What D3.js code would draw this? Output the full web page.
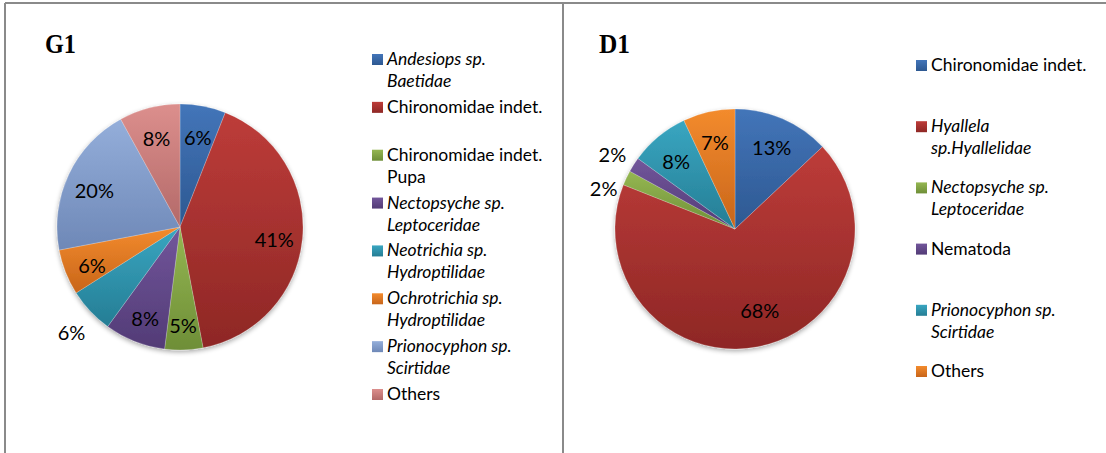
<!DOCTYPE html>
<html>
<head>
<meta charset="utf-8">
<script src="https://cdn.jsdelivr.net/npm/d3@7"></script>
<style>
body { margin: 0; background: #fff; }
text { font-family: Lato, "Open Sans", sans-serif; fill: #000; }
</style>
</head>
<body>
<script>
// G1 data
var g1Categories = [["Andesiops sp.", "Baetidae"], ["Chironomidae indet."], ["Chironomidae indet.", "Pupa"],
	["Nectopsyche sp.", "Leptoceridae"], ["Neotrichia sp.", "Hydroptilidae"], ["Ochrotrichia sp.", "Hydroptilidae"],
	["Prionocyphon sp.", "Scirtidae"], ["Others"]];
var g1Italic = [true, false, false, true, true, true, true, false];
var g1Values = [6, 41, 5, 8, 6, 6, 20, 8];

// D1 data
var d1Categories = [["Chironomidae indet."], ["Hyallela", "sp.Hyallelidae"], ["Nectopsyche sp.", "Leptoceridae"],
	["Nematoda"], ["Prionocyphon sp.", "Scirtidae"], ["Others"]];
var d1Italic = [false, true, true, false, true, false];
var d1Values = [13, 68, 2, 2, 8, 7];

// excel-ish colours, top / bottom of the gradient
var palette = [
	["#4375B9", "#2D5891"],
	["#BD3C39", "#8E2725"],
	["#95B752", "#6E8E37"],
	["#72569B", "#523B76"],
	["#39A6C1", "#257D94"],
	["#F38B2D", "#C8651A"],
	["#94AEDA", "#6E88B7"],
	["#DC8F8D", "#B36968"]
];

var width = 1106;
var height = 453;

var svg = d3.select("body").append("svg")
	.attr("width", width)
	.attr("height", height);

svg.append("rect").attr("width", width).attr("height", height).attr("fill", "#fff");

var defs = svg.append("defs");
palette.forEach(function(c, i){
	var g = defs.append("linearGradient")
		.attr("id", "grad" + i)
		.attr("x1", 0).attr("y1", 0).attr("x2", 0).attr("y2", 1);
	g.append("stop").attr("offset", "0%").attr("stop-color", c[0]);
	g.append("stop").attr("offset", "100%").attr("stop-color", c[1]);
});

var shadow = defs.append("filter").attr("id", "shadow")
	.attr("x", "-10%").attr("y", "-10%").attr("width", "120%").attr("height", "120%");
shadow.append("feGaussianBlur").attr("in", "SourceAlpha").attr("stdDeviation", 2.5);
shadow.append("feOffset").attr("dx", 0).attr("dy", 1.5).attr("result", "blur");
shadow.append("feComponentTransfer").append("feFuncA").attr("type", "linear").attr("slope", 0.35);
var merge = shadow.append("feMerge");
merge.append("feMergeNode");
merge.append("feMergeNode").attr("in", "SourceGraphic");

// frame lines
var frame = svg.append("g").attr("stroke", "#8a8a8a").attr("stroke-width", 2);
frame.append("line").attr("x1", 5).attr("y1", 3).attr("x2", width).attr("y2", 3);
frame.append("line").attr("x1", 5).attr("y1", 3).attr("x2", 5).attr("y2", height);
frame.append("line").attr("x1", 563).attr("y1", 3).attr("x2", 563).attr("y2", height);

function drawChart(opt){
	var g = svg.append("g");

	g.append("text")
		.attr("x", opt.titleX).attr("y", 53)
		.style("font-family", "'Liberation Serif', serif")
		.attr("font-weight", "bold")
		.attr("font-size", 28)
		.attr("textLength", 31)
		.attr("lengthAdjust", "spacingAndGlyphs")
		.text(opt.title);

	var pie = d3.pie().sort(null).value(function(d){ return d; });
	var arcs = pie(opt.values);
	var arc = d3.arc().innerRadius(0).outerRadius(opt.r);

	var pieG = g.append("g")
		.attr("transform", "translate(" + opt.cx + "," + opt.cy + ")");

	pieG.append("g").attr("filter", "url(#shadow)")
		.selectAll("path")
		.data(arcs)
		.enter()
			.append("path")
			.attr("d", arc)
			.attr("fill", function(d, i){ return "url(#grad" + opt.colors[i] + ")"; })
			.attr("stroke", "rgba(255,255,255,0.35)")
			.attr("stroke-width", 0.6);

	// label positions, a few are pushed outside like excel's best fit
	var pos = arcs.map(function(d, i){
		var out = opt.outside.indexOf(i) >= 0;
		var big = (d.endAngle - d.startAngle) > Math.PI;
		var rr = out ? opt.r * 1.21 : (big ? opt.r * 0.68 : opt.r * 0.77);
		var a = (d.startAngle + d.endAngle) / 2;
		if (big) a -= 0.12;
		return {x: rr * Math.sin(a), y: -rr * Math.cos(a), out: out, v: d.data};
	});
	var outs = pos.filter(function(p){ return p.out; }).sort(function(a, b){ return a.y - b.y; });
	for (var k = 1; k < outs.length; k++){
		if (outs[k].y - outs[k-1].y < 34) outs[k].y = outs[k-1].y + 34;
	}

	pieG.selectAll("text.pct")
		.data(pos)
		.enter()
			.append("text")
			.attr("class", "pct")
			.attr("x", function(d){ return d.x; })
			.attr("y", function(d){ return d.y + 4; })
			.attr("dy", "0.35em")
			.attr("text-anchor", "middle")
			.attr("font-size", 20)
			.text(function(d){ return d.v + "%"; });

	// legend
	var idx = d3.range(opt.categories.length);
	var legendY = d3.scalePoint().domain(idx).range(opt.legendRange);

	var items = g.selectAll("g.leg")
		.data(idx)
		.enter()
			.append("g")
			.attr("class", "leg")
			.attr("transform", function(i){ return "translate(" + opt.legendX + "," + legendY(i) + ")"; });

	items.append("rect")
		.attr("x", 0).attr("y", -11)
		.attr("width", 11).attr("height", 11)
		.attr("fill", function(i){ return "url(#grad" + opt.colors[i] + ")"; });

	items.each(function(i){
		var it = d3.select(this);
		opt.categories[i].forEach(function(line, j){
			it.append("text")
				.attr("x", 15)
				.attr("y", j * 22)
				.attr("font-size", 17.5)
				.attr("font-style", opt.italic[i] ? "italic" : "normal")
				.text(line);
		});
	});
}

drawChart({
	title: "G1", titleX: 45,
	cx: 180, cy: 227, r: 123,
	values: g1Values, categories: g1Categories, italic: g1Italic,
	colors: [0, 1, 2, 3, 4, 5, 6, 7],
	outside: [4],
	legendX: 372, legendRange: [65, 400]
});

drawChart({
	title: "D1", titleX: 599,
	cx: 735, cy: 229, r: 120,
	values: d1Values, categories: d1Categories, italic: d1Italic,
	colors: [0, 1, 2, 3, 4, 5],
	outside: [2, 3],
	legendX: 916, legendRange: [71, 377]
});
</script>
</body>
</html>
